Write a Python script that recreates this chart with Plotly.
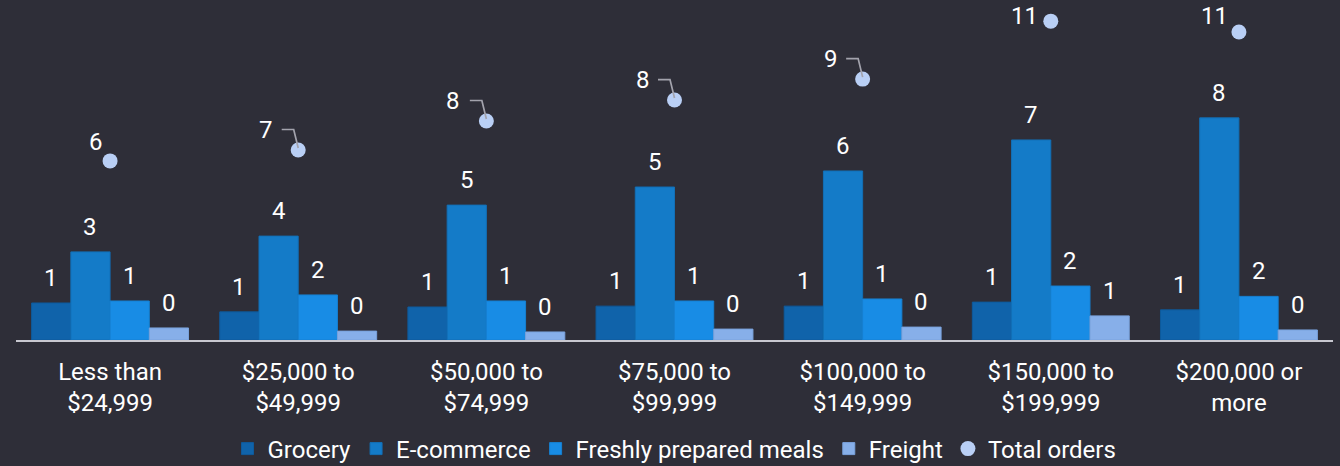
import plotly.graph_objects as go

# Household income brackets (x categories)
categories = [
    "Less than<br>$24,999",
    "$25,000 to<br>$49,999",
    "$50,000 to<br>$74,999",
    "$75,000 to<br>$99,999",
    "$100,000 to<br>$149,999",
    "$150,000 to<br>$199,999",
    "$200,000 or<br>more",
]

# Average orders per household, by delivery type
grocery = [1.29, 0.98, 1.15, 1.18, 1.18, 1.32, 1.05]
ecommerce = [3.07, 3.62, 4.70, 5.33, 5.89, 6.97, 7.74]
fresh_meals = [1.36, 1.57, 1.36, 1.36, 1.43, 1.88, 1.52]
freight = [0.42, 0.31, 0.28, 0.38, 0.45, 0.84, 0.35]
total_orders = [6.24, 6.62, 7.63, 8.36, 9.09, 11.11, 10.73]

series_names = ["Grocery", "E-commerce", "Freshly prepared meals", "Freight"]
series_values = [grocery, ecommerce, fresh_meals, freight]
series_colors = ["#1063aa", "#147bc8", "#188ce5", "#87afe9"]
series_edges = ["#0e5a9c", "#126fb6", "#1680d2", "#7aa2dc"]

# Label placement for the total-order markers (pixels from the marker) and
# whether a bent leader line joins label and marker
total_label_dx = [-14, -32, -33, -32, -32, -26, -24]
total_label_dy = [19, 20, 20, 20, 20, 5, 16]
total_leader = [False, True, True, True, True, False, False]

BG = "#2e2e38"
FONT = "Roboto, 'Liberation Sans', sans-serif"
FS = 24
BARGAP = 0.166
PLOT_H = 330

fig = go.Figure()

for name, vals, col, edge in zip(series_names, series_values, series_colors, series_edges):
    fig.add_trace(go.Bar(
        name=name, x=categories, y=vals,
        marker=dict(color=col, line=dict(color=edge, width=1)),
    ))

fig.add_trace(go.Scatter(
    name="Total orders", x=categories, y=total_orders, mode="markers",
    marker=dict(color="#b9cff5", size=15),
))

annotations = []
shapes = []
n = len(series_values)
slot = (1 - BARGAP) / n
for i, vals in enumerate(series_values):
    off = (i - (n - 1) / 2) * slot
    for j, v in enumerate(vals):
        annotations.append(dict(
            x=j + off, y=v, xref="x", yref="y", text=f"{round(v)}",
            showarrow=False, yanchor="middle", yshift=25,
            font=dict(family=FONT, size=FS, color="#ffffff"),
        ))

for j, v in enumerate(total_orders):
    annotations.append(dict(
        x=j, y=v, xref="x", yref="y", text=f"{round(v)}",
        showarrow=False, xanchor="center", yanchor="middle",
        xshift=total_label_dx[j], yshift=total_label_dy[j],
        font=dict(family=FONT, size=FS, color="#ffffff"),
    ))
    if total_leader[j]:
        shapes.append(dict(
            type="path", xref="x", yref="y",
            xsizemode="pixel", ysizemode="pixel",
            xanchor=j, yanchor=v,
            path="M -16.5 20.5 L -4.5 20.5 L 0 2",
            line=dict(color="#a3a3ad", width=1.7),
        ))

fig.update_layout(
    width=1340, height=466,
    paper_bgcolor=BG, plot_bgcolor=BG,
    margin=dict(l=16, r=7, t=10, b=126, autoexpand=False),
    barmode="group", bargap=BARGAP, bargroupgap=0,
    font=dict(family=FONT, size=FS, color="#ffffff"),
    showlegend=True,
    legend=dict(
        orientation="h", x=0.5, xanchor="center",
        y=-109 / PLOT_H, yanchor="middle", yref="paper",
        font=dict(family=FONT, size=FS, color="#ffffff"),
        bgcolor="rgba(0,0,0,0)", itemwidth=30, tracegroupgap=0,
    ),
    annotations=annotations,
    shapes=shapes,
)

fig.update_xaxes(
    showgrid=False, showline=True, linecolor="#c8c8d0", linewidth=2,
    ticks="", ticklabelstandoff=9, automargin=False,
    tickfont=dict(family=FONT, size=FS, color="#ffffff"),
    zeroline=False,
)
fig.update_yaxes(
    range=[0, PLOT_H / 28.7], visible=False, showgrid=False, zeroline=False,
)

fig.write_html("out.html")
